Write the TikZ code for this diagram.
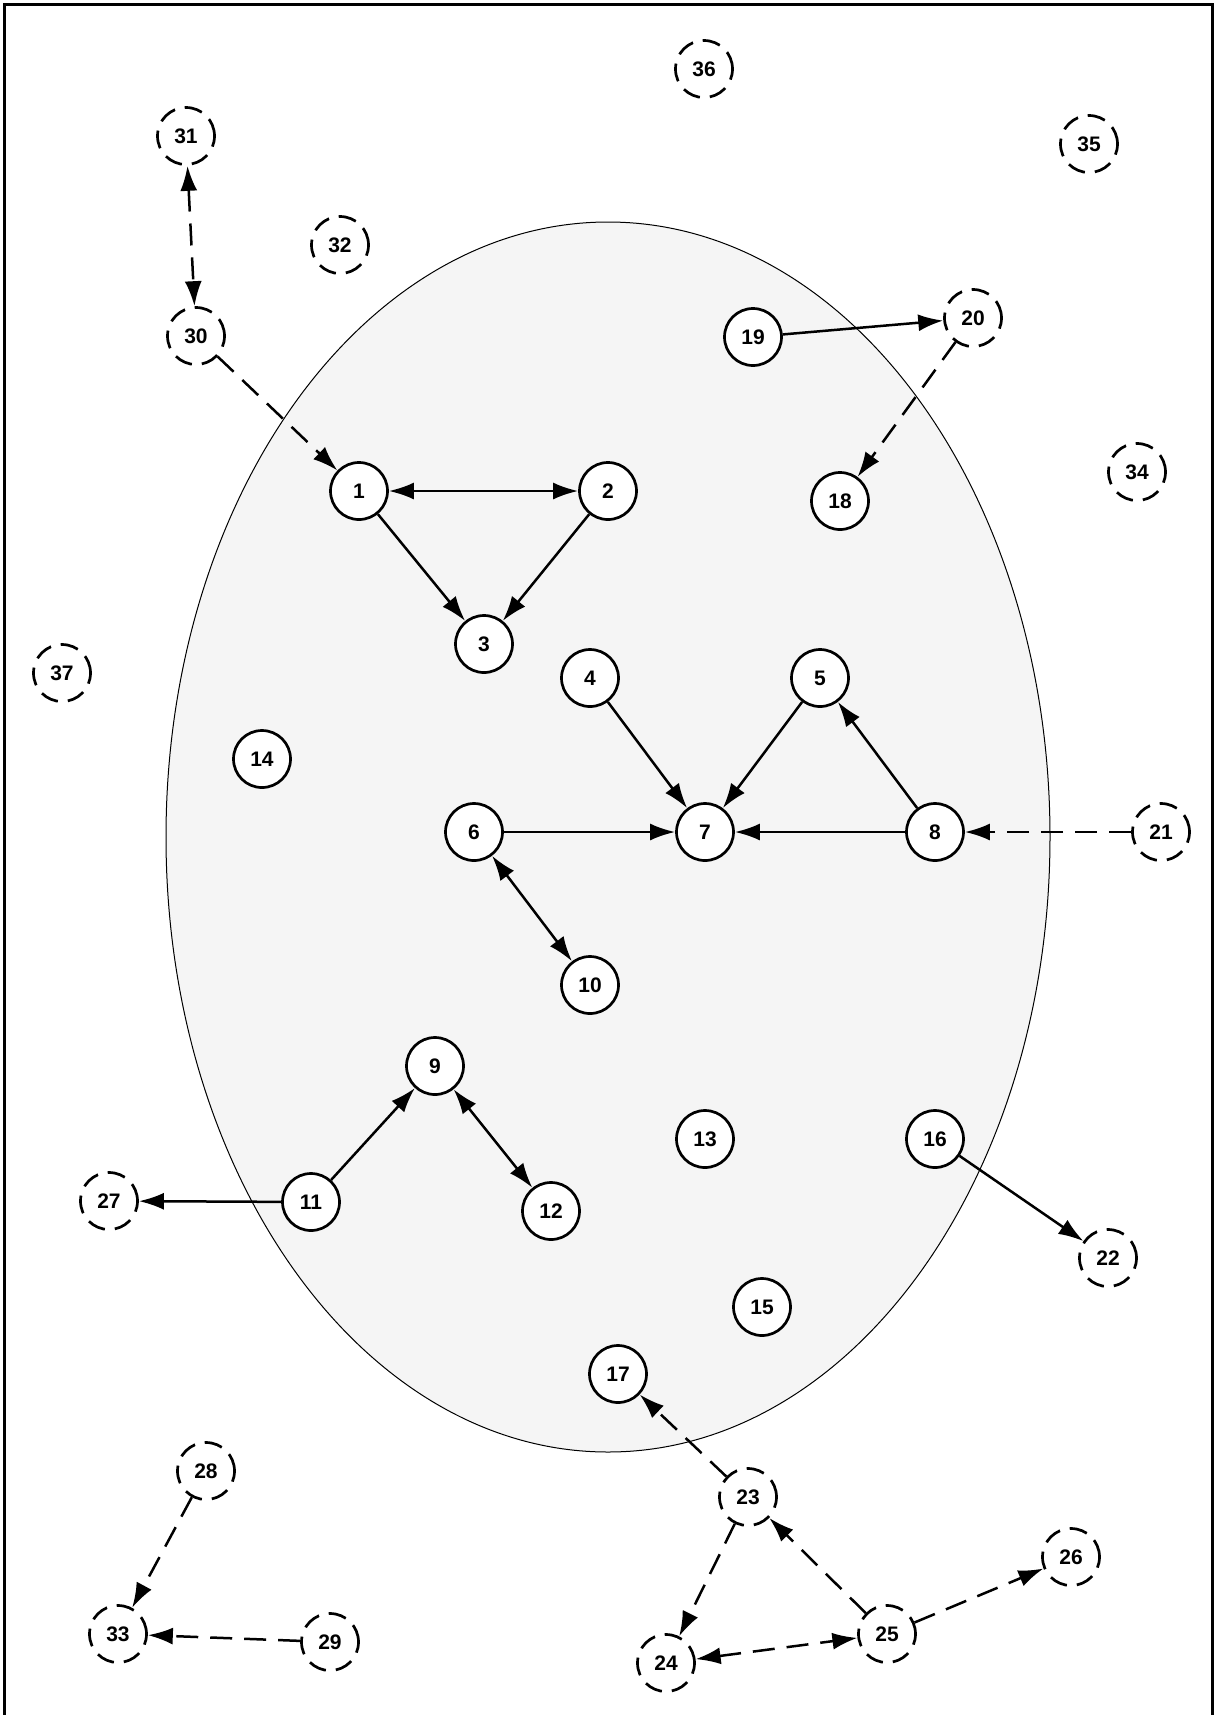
\documentclass[tikz,border=0pt]{standalone}
\usepackage{fontspec}
\setmainfont{Liberation Sans}
\usetikzlibrary{arrows.meta}
\tikzset{
  >={Latex[length=12.5pt,width=8.5pt]},
}
\tikzstyle{peer}=[circle,draw,line width=1.35pt,fill=white,minimum size=28.5pt,inner sep=0pt,font=\fontsize{10.5}{12}\bfseries]
\tikzstyle{outpeer}=[peer,dash pattern=on 9pt off 5pt]
\tikzstyle{link}=[line width=1.25pt,->]
\tikzstyle{dlink}=[link,dash pattern=on 11pt off 6pt]
\tikzstyle{cluster}=[line width=.5pt,fill=black!4]

\begin{document}
\begin{tikzpicture}[x=.5pt,y=-.5pt]
    \useasboundingbox (0,0) rectangle (1215,1715);
    \draw[line width=1.5pt] (4,1720) |- (1212,4) -- (1212,1720);
    \draw[cluster] (608,837) ellipse [x radius=442,y radius=615];
    % inside the cluster
    \node[peer] (n1) at (359,491) {1};
    \node[peer] (n2) at (608,491) {2};
    \node[peer] (n3) at (484,644) {3};
    \node[peer] (n4) at (590,678) {4};
    \node[peer] (n5) at (820,678) {5};
    \node[peer] (n6) at (474,832) {6};
    \node[peer] (n7) at (705,832) {7};
    \node[peer] (n8) at (935,832) {8};
    \node[peer] (n9) at (435,1066) {9};
    \node[peer] (n10) at (590,985) {10};
    \node[peer] (n11) at (311,1202) {11};
    \node[peer] (n12) at (551,1211) {12};
    \node[peer] (n13) at (705,1139) {13};
    \node[peer] (n14) at (262,759) {14};
    \node[peer] (n15) at (762,1307) {15};
    \node[peer] (n16) at (935,1139) {16};
    \node[peer] (n17) at (618,1374) {17};
    \node[peer] (n18) at (840,501) {18};
    \node[peer] (n19) at (753,337) {19};
    % outside
    \node[outpeer] (n20) at (973,318) {20};
    \node[outpeer] (n21) at (1161,832) {21};
    \node[outpeer] (n22) at (1108,1258) {22};
    \node[outpeer] (n23) at (748,1497) {23};
    \node[outpeer] (n24) at (666,1663) {24};
    \node[outpeer] (n25) at (887,1634) {25};
    \node[outpeer] (n26) at (1071,1557) {26};
    \node[outpeer] (n27) at (109,1201) {27};
    \node[outpeer] (n28) at (206,1471) {28};
    \node[outpeer] (n29) at (330,1642) {29};
    \node[outpeer] (n30) at (196,336) {30};
    \node[outpeer] (n31) at (186,136) {31};
    \node[outpeer] (n32) at (340,245) {32};
    \node[outpeer] (n33) at (118,1634) {33};
    \node[outpeer] (n34) at (1137,472) {34};
    \node[outpeer] (n35) at (1089,144) {35};
    \node[outpeer] (n36) at (704,69) {36};
    \node[outpeer] (n37) at (62,673) {37};
    % solid links
    \draw[link,<->] (n1) -- (n2);
    \draw[link] (n1) -- (n3);
    \draw[link] (n2) -- (n3);
    \draw[link] (n4) -- (n7);
    \draw[link] (n5) -- (n7);
    \draw[link] (n6) -- (n7);
    \draw[link] (n8) -- (n7);
    \draw[link] (n8) -- (n5);
    \draw[link,<->] (n6) -- (n10);
    \draw[link] (n11) -- (n9);
    \draw[link,<->] (n9) -- (n12);
    \draw[link] (n11) -- (n27);
    \draw[link] (n16) -- (n22);
    \draw[link] (n19) -- (n20);
    % dashed links
    \draw[dlink] (n21) -- (n8);
    \draw[dlink] (n20) -- (n18);
    \draw[dlink] (n30) -- (n1);
    \draw[dlink,<->] (n31) -- (n30);
    \draw[dlink] (n23) -- (n17);
    \draw[dlink] (n23) -- (n24);
    \draw[dlink] (n25) -- (n23);
    \draw[dlink,<->] (n24) -- (n25);
    \draw[dlink] (n25) -- (n26);
    \draw[dlink] (n28) -- (n33);
    \draw[dlink] (n29) -- (n33);
\end{tikzpicture}
\end{document}
